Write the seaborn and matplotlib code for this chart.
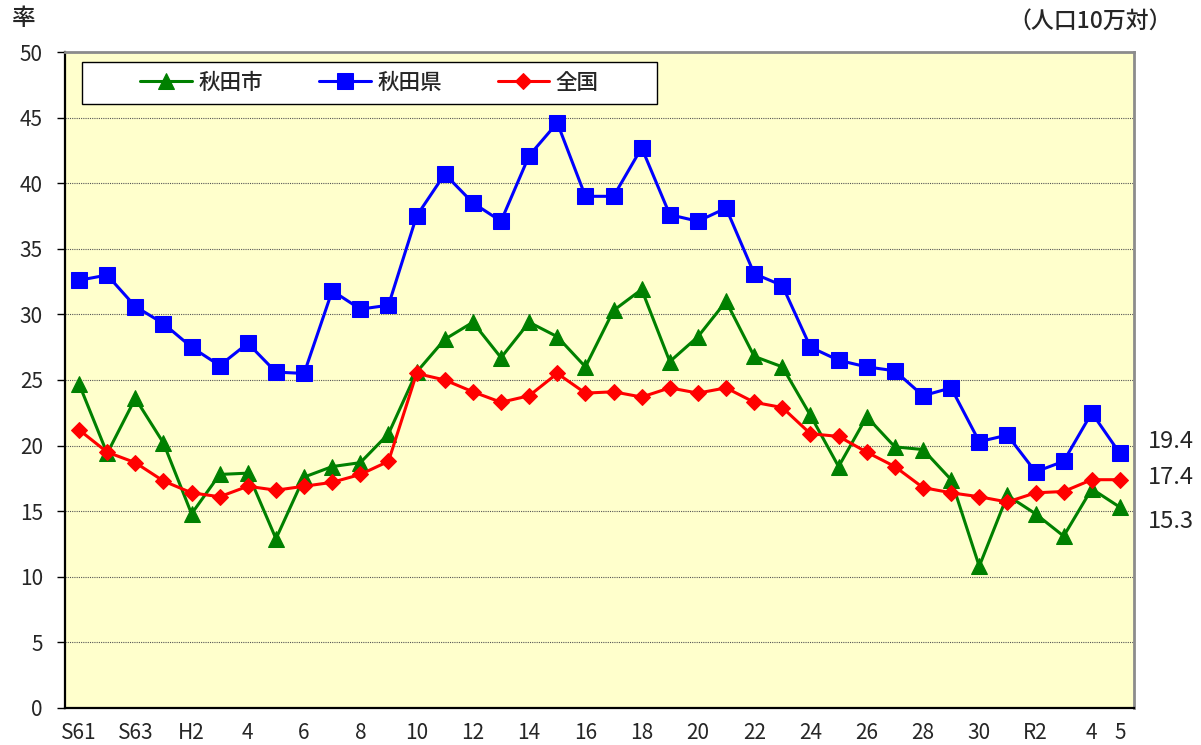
import matplotlib
matplotlib.use("Agg")
import matplotlib.pyplot as plt
import seaborn as sns
import pandas as pd
from matplotlib.patches import Rectangle

sns.set_style("white")
plt.rcParams["font.family"] = ["Noto Sans CJK JP", "DejaVu Sans"]
plt.rcParams["axes.unicode_minus"] = False

# ====================================
# データ（人口10万対）
# ====================================
YEARS = (
    ["S61", "S62", "S63"]
    + ["H%d" % i for i in range(1, 31)]
    + ["R%d" % i for i in range(1, 6)]
)

TICK_TEXT = [
    "S61", "", "S63", "", "H2", "", "4", "", "6", "", "8", "", "10", "",
    "12", "", "14", "", "16", "", "18", "", "20", "", "22", "", "24", "",
    "26", "", "28", "", "30", "", "R2", "", "4", "5",
]

AKITA_CITY = [
    24.7, 19.4, 23.6, 20.2, 14.8, 17.8, 17.9, 12.9, 17.6, 18.4, 18.7, 20.9,
    25.6, 28.1, 29.4, 26.7, 29.4, 28.3, 26.0, 30.3, 31.9, 26.4, 28.3, 31.0,
    26.8, 26.0, 22.3, 18.4, 22.2, 19.9, 19.7, 17.4, 10.8, 16.2, 14.8, 13.1,
    16.7, 15.3,
]
AKITA_PREF = [
    32.6, 33.0, 30.6, 29.3, 27.5, 26.1, 27.8, 25.6, 25.5, 31.8, 30.4, 30.7,
    37.5, 40.7, 38.5, 37.1, 42.1, 44.6, 39.0, 39.0, 42.7, 37.6, 37.1, 38.1,
    33.1, 32.2, 27.5, 26.5, 26.0, 25.7, 23.8, 24.4, 20.3, 20.8, 18.0, 18.8,
    22.5, 19.4,
]
NATIONAL = [
    21.2, 19.5, 18.7, 17.3, 16.4, 16.1, 16.9, 16.6, 16.9, 17.2, 17.8, 18.8,
    25.5, 25.0, 24.1, 23.3, 23.8, 25.5, 24.0, 24.1, 23.7, 24.4, 24.0, 24.4,
    23.3, 22.9, 20.9, 20.7, 19.5, 18.4, 16.8, 16.4, 16.1, 15.7, 16.4, 16.5,
    17.4, 17.4,
]

SERIES = [
    ("秋田市", AKITA_CITY, "#008000", "^", 12, -1.1),
    ("秋田県", AKITA_PREF, "#0000FF", "s", 11, 0.9),
    ("全国", NATIONAL, "#FF0000", "D", 8, 0.2),
]

df = pd.DataFrame({"x": range(len(YEARS)), "year": YEARS})

fig = plt.figure(figsize=(12.01, 7.45), dpi=100)
ax = fig.add_axes([0.0541, 0.0497, 0.8901, 0.8805])
ax.set_facecolor("#FFFFCC")

for name, values, color, marker, msize, _ in SERIES:
    sns.lineplot(
        x=df["x"],
        y=values,
        ax=ax,
        color=color,
        marker=marker,
        markersize=msize,
        markeredgecolor=color,
        linewidth=2.2,
        label=name,
    )

ax.set_xlim(-0.5, len(YEARS) - 0.5)
ax.set_ylim(0, 50)
ax.set_yticks(range(0, 51, 5))
ax.set_xticks(range(len(YEARS)))
ax.set_xticklabels(TICK_TEXT)
ax.set_xticks([i - 0.5 for i in range(len(YEARS) + 1)], minor=True)
ax.set_xlabel("")
ax.set_ylabel("")

tick_font = ["Liberation Sans Narrow", "Noto Sans CJK JP"]
for lab in ax.get_xticklabels() + ax.get_yticklabels():
    lab.set_family(tick_font)
    lab.set_fontsize(15)

ax.tick_params(axis="x", which="major", length=0, pad=10)
ax.tick_params(axis="x", which="minor", direction="out", length=6, width=1, color="black")
ax.tick_params(axis="y", direction="out", length=6, width=1, color="black", pad=10, left=True)

ax.grid(axis="y", linestyle=(0, (1, 1)), color="#555555", linewidth=0.8)
ax.grid(axis="x", visible=False)

for side in ["left", "bottom"]:
    ax.spines[side].set_color("black")
    ax.spines[side].set_linewidth(1.6)
for side in ["top", "right"]:
    ax.spines[side].set_color("#8C8C8C")
    ax.spines[side].set_linewidth(2)

# 凡例枠
ax.add_patch(Rectangle(
    (0.0159, 0.921), 0.538, 0.064,
    transform=ax.transAxes,
    facecolor="white",
    edgecolor="black",
    linewidth=1,
    zorder=5,
))
leg = ax.legend(
    loc="center",
    bbox_to_anchor=(0.0159 + 0.269, 0.953),
    ncol=3,
    frameon=False,
    fontsize=15.5,
    handlelength=2.4,
    handletextpad=0.3,
    columnspacing=2.6,
)
leg.set_zorder(6)
for t in leg.get_texts():
    t.set_fontweight("medium")

# 最新値ラベル
last_x = len(YEARS) - 0.5
for name, values, color, marker, msize, shift in SERIES:
    ax.annotate(
        "%.1f" % values[-1],
        xy=(last_x, values[-1] + shift),
        xycoords="data",
        xytext=(10, 0),
        textcoords="offset points",
        ha="left",
        va="center",
        fontsize=17,
        family=tick_font,
        annotation_clip=False,
    )

fig.text(0.010, 0.975, "率", fontsize=17, fontweight="medium", ha="left", va="center")
fig.text(0.976, 0.972, "（人口10万対）", fontsize=16.5, fontweight="medium",
         ha="right", va="center")

fig.savefig("out.png", dpi=100)
